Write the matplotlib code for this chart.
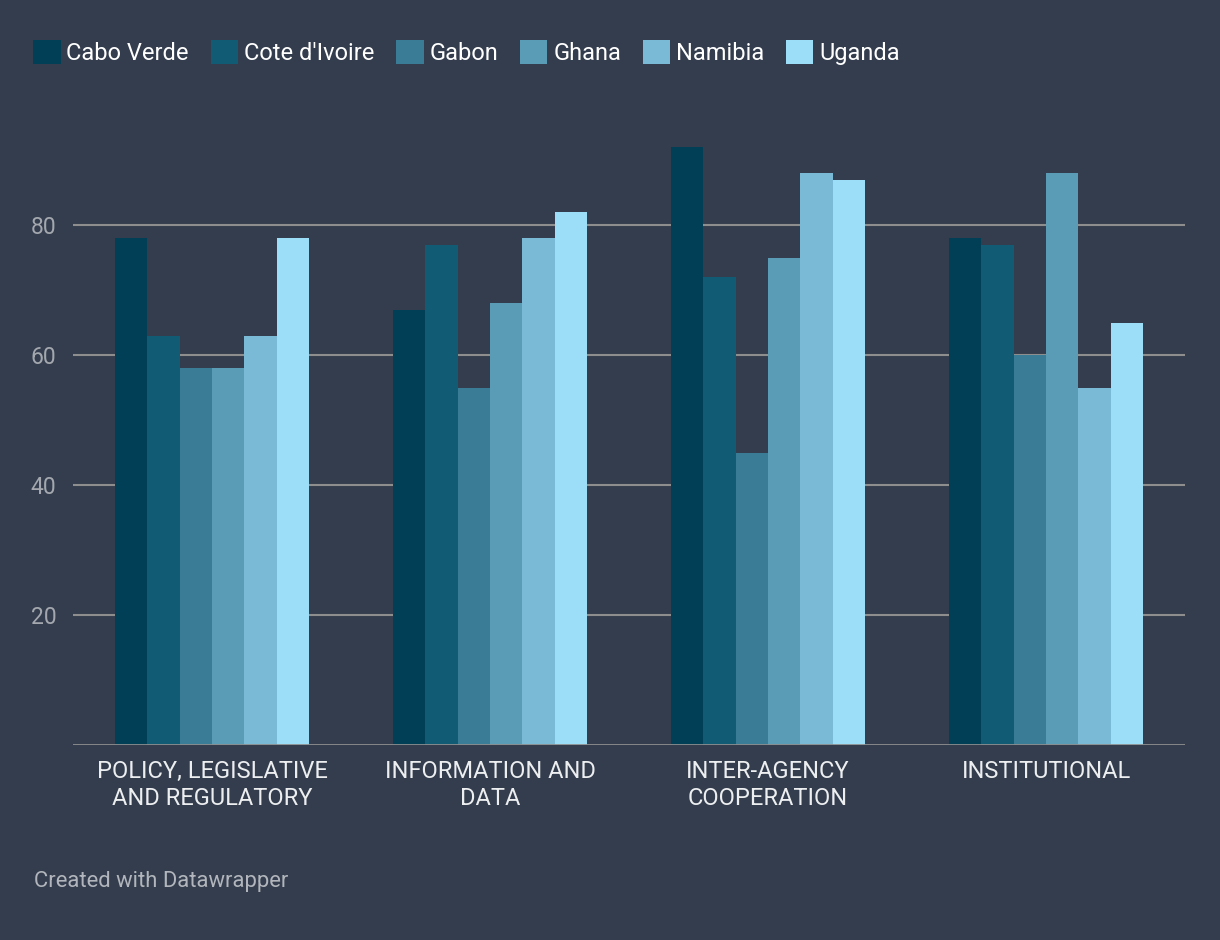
"""Grouped bar chart: country scores by capacity area (Datawrapper style)."""

import matplotlib
matplotlib.use("Agg")
import matplotlib.pyplot as plt
import numpy as np

categories = [
    "POLICY, LEGISLATIVE\nAND REGULATORY",
    "INFORMATION AND\nDATA",
    "INTER-AGENCY\nCOOPERATION",
    "INSTITUTIONAL",
]
countries = ["Cabo Verde", "Cote d'Ivoire", "Gabon", "Ghana", "Namibia", "Uganda"]
cabo_verde = [78, 67, 92, 78]
cote_divoire = [63, 77, 72, 77]
gabon = [58, 55, 45, 60]
ghana = [58, 68, 75, 88]
namibia = [63, 78, 88, 55]
uganda = [78, 82, 87, 65]
y_ticks = [20, 40, 60, 80]

series = [cabo_verde, cote_divoire, gabon, ghana, namibia, uganda]
colors = ["#013f57", "#115b74", "#3a7b96", "#5a9bb6", "#7bbad6", "#9cdef7"]
background = "#333d4d"

plt.rcParams["font.family"] = ["Roboto", "DejaVu Sans"]

fig = plt.figure(figsize=(12.2, 9.4), dpi=100, facecolor=background)
W, H = 1220, 940
left, right, bottom, top = 73, 1185, 745, 127.5
ax = fig.add_axes([left / W, 1 - bottom / H, (right - left) / W, (bottom - top) / H])
ax.set_facecolor(background)

x = np.arange(len(categories))
group_width = 0.7
bar_width = group_width / len(series)
for i, (name, values, color) in enumerate(zip(countries, series, colors)):
    offset = -group_width / 2 + bar_width * (i + 0.5)
    ax.bar(x + offset, values, width=bar_width, color=color, label=name, zorder=3, linewidth=0)

ax.set_xlim(-0.5, len(categories) - 0.5)
ax.set_ylim(0, 95)
ax.set_yticks(y_ticks)
ax.set_yticklabels([str(t) for t in y_ticks])
for t in y_ticks:
    ax.axhline(t, color="#8e8e8e", linewidth=1.5, zorder=1)
ax.axhline(0, color="#8e8e8e", linewidth=2, zorder=4)

ax.set_xticks(x)
ax.set_xticklabels(categories, fontsize=17, color="#eceef0", linespacing=1.2)
ax.tick_params(axis="x", length=0, pad=11)
ax.tick_params(axis="y", length=0, pad=12, labelsize=16.5, labelcolor="#a4a8ae")
for spine in ax.spines.values():
    spine.set_visible(False)

fig.legend(
    loc="upper left",
    bbox_to_anchor=(24 / W, 1 - 31 / H),
    ncol=6,
    frameon=False,
    fontsize=17,
    labelcolor="white",
    handlelength=1.15,
    handleheight=1.15,
    handletextpad=0.25,
    columnspacing=0.93,
    borderaxespad=0,
)

fig.text(34 / W, 1 - 881 / H, "Created with Datawrapper", fontsize=15.8, color="#b2b6bc", va="center", ha="left")

fig.savefig("out.png", dpi=100, facecolor=background)
